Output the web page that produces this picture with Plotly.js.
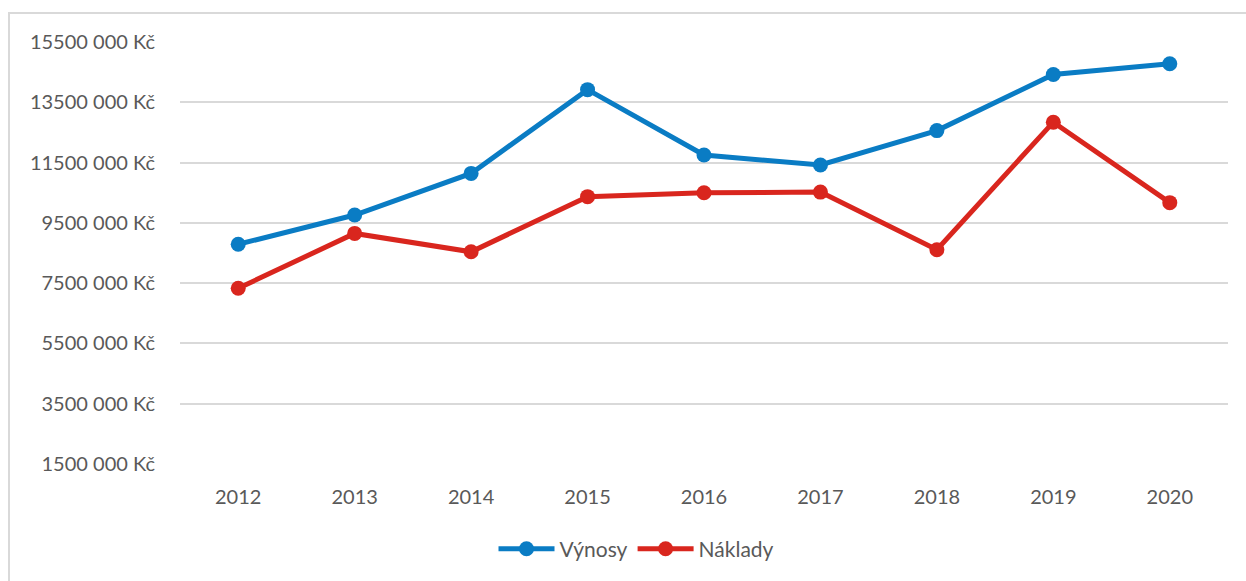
<!DOCTYPE html>
<html>
<head>
<meta charset="utf-8">
<script src="https://cdn.plot.ly/plotly-3.0.1.min.js"></script>
<style>
  html, body { margin: 0; padding: 0; background: #ffffff; }
  #wrap { position: relative; width: 1246px; height: 581px; overflow: hidden; }
  #frame { position: absolute; left: 8px; top: 12px; width: 1300px; height: 700px;
           border-left: 2px solid #D9D9D9; border-top: 2px solid #D9D9D9; box-sizing: border-box; }
  #chart { position: absolute; left: 0; top: 0; width: 1246px; height: 581px; }
</style>
</head>
<body>
<div id="wrap">
  <div id="frame"></div>
  <div id="chart"></div>
</div>
<script>
const years = ["2012", "2013", "2014", "2015", "2016", "2017", "2018", "2019", "2020"];
const vynosy = [8790000, 9760000, 11140000, 13920000, 11750000, 11420000, 12560000, 14420000, 14780000];
const naklady = [7330000, 9150000, 8540000, 10370000, 10500000, 10520000, 8610000, 12840000, 10170000];
const yTickVals = [1500000, 3500000, 5500000, 7500000, 9500000, 11500000, 13500000, 15500000];
const yTickText = ["1500 000 Kč", "3500 000 Kč", "5500 000 Kč", "7500 000 Kč", "9500 000 Kč",
                   "11500 000 Kč", "13500 000 Kč", "15500 000 Kč"];

const FONT = "Lato, 'Open Sans', sans-serif";
const TEXT = "#595959";

const traces = [
  {
    x: years, y: vynosy, name: "Výnosy", type: "scatter", mode: "lines+markers",
    line: { color: "#0A7CC4", width: 5 },
    marker: { color: "#0A7CC4", size: 15 }
  },
  {
    x: years, y: naklady, name: "Náklady", type: "scatter", mode: "lines+markers",
    line: { color: "#D9261E", width: 5 },
    marker: { color: "#D9261E", size: 15 }
  }
];

const layout = {
  width: 1246, height: 581,
  margin: { l: 180, r: 18, t: 42, b: 115 },
  paper_bgcolor: "rgba(0,0,0,0)",
  plot_bgcolor: "rgba(0,0,0,0)",
  font: { family: FONT, size: 20, color: TEXT },
  showlegend: true,
  legend: {
    orientation: "h", x: 0.4356, xanchor: "center", y: -0.2015, yanchor: "middle",
    font: { family: FONT, size: 21, color: TEXT },
    itemwidth: 56, bgcolor: "rgba(0,0,0,0)"
  },
  xaxis: {
    type: "category", range: [-0.5, 8.5], showgrid: false, zeroline: false, showline: false,
    ticks: "outside", ticklen: 15, tickcolor: "rgba(0,0,0,0)",
    tickfont: { family: FONT, size: 20, color: TEXT }
  },
  yaxis: {
    range: [1500000, 15500000], tickmode: "array", tickvals: yTickVals, ticktext: yTickText,
    showgrid: true, gridcolor: "#D9D9D9", gridwidth: 2, zeroline: false, showline: false,
    ticks: "outside", ticklen: 20, tickcolor: "rgba(0,0,0,0)",
    tickfont: { family: FONT, size: 20, color: TEXT }
  }
};

Plotly.newPlot("chart", traces, layout, { displayModeBar: false, staticPlot: true });
</script>
</body>
</html>
